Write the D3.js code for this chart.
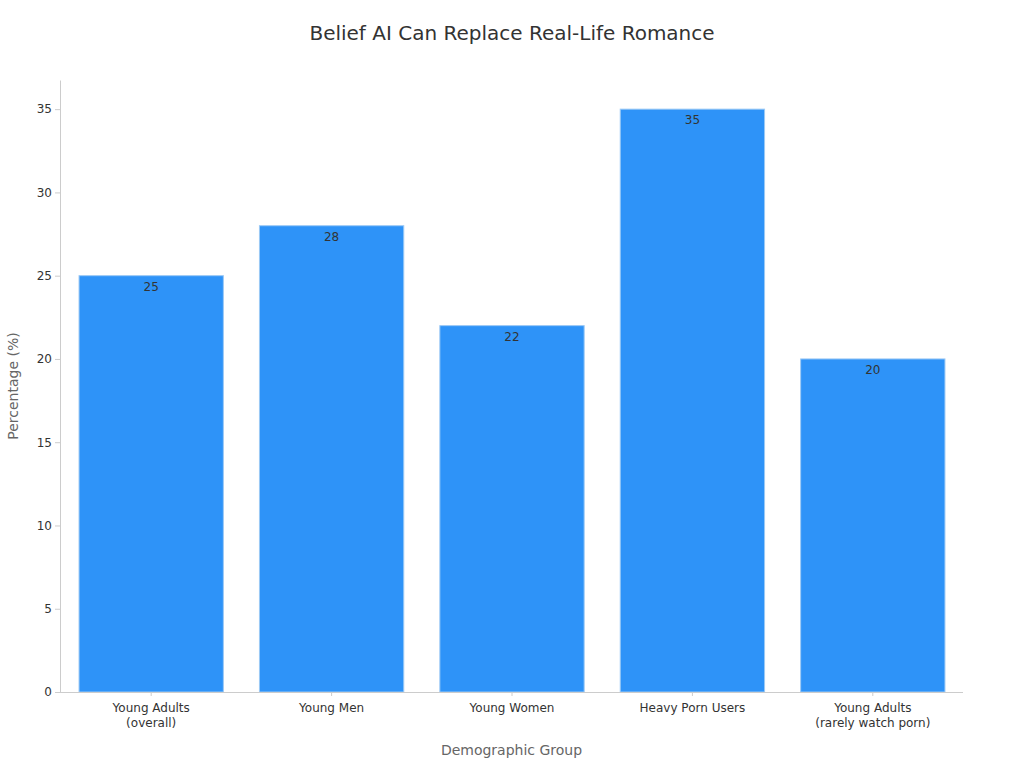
<!DOCTYPE html>
<html>
<head>
<meta charset="utf-8">
<script src="https://cdn.jsdelivr.net/npm/d3@7"></script>
<style>
  body { margin: 0; background: #fff; font-family: "DejaVu Sans", sans-serif; }
  .axis path, .axis line { stroke: #ccc; }
  .axis text { fill: #333; font-size: 12px; font-family: "DejaVu Sans", sans-serif; }
</style>
</head>
<body>
<div id="container"></div>
<script>
  /* DATA */
  const categories = ["Young Adults\n(overall)", "Young Men", "Young Women", "Heavy Porn Users", "Young Adults\n(rarely watch porn)"];
  const values = [25, 28, 22, 35, 20];
  const yTicks = [0, 5, 10, 15, 20, 25, 30, 35];

  const width = 1024, height = 768,
        margin = {top: 80, bottom: 76, left: 60, right: 61};

  const svg = d3.select("#container").append("svg")
      .attr("width", width)
      .attr("height", height);

  const xScale = d3.scaleBand()
      .domain(categories)
      .range([margin.left + 1, width - margin.right])
      .paddingInner(0.2)
      .paddingOuter(0.1);

  const yScale = d3.scaleLinear()
      .domain([0, 36.75])
      .range([height - margin.bottom, margin.top]);

  // title
  svg.append("text")
      .attr("x", width / 2)
      .attr("y", 40)
      .attr("text-anchor", "middle")
      .attr("fill", "#333")
      .attr("font-size", "20px")
      .text("Belief AI Can Replace Real-Life Romance");

  // bars
  svg.selectAll("rect.bar")
      .data(values)
      .join("rect")
      .attr("class", "bar")
      .attr("x", (d, i) => xScale(categories[i]))
      .attr("y", d => yScale(d))
      .attr("width", xScale.bandwidth())
      .attr("height", d => yScale(0) - yScale(d))
      .attr("fill", "#2E93F8")
      .attr("stroke", "#9cc9f5")
      .attr("stroke-width", 1);

  // value labels
  svg.selectAll("text.val")
      .data(values)
      .join("text")
      .attr("class", "val")
      .attr("x", (d, i) => xScale(categories[i]) + xScale.bandwidth() / 2)
      .attr("y", d => yScale(d) + 15)
      .attr("text-anchor", "middle")
      .attr("fill", "#333")
      .attr("font-size", "12px")
      .text(d => d);

  // axes
  const xAxis = svg.append("g")
      .attr("class", "axis")
      .attr("transform", `translate(0,${yScale(0)})`)
      .call(d3.axisBottom(xScale).tickSize(4).tickSizeOuter(0));

  // x axis path spans from the y axis
  xAxis.select(".domain").attr("d", `M${margin.left},0.5H${width - margin.right}`);

  xAxis.selectAll(".tick text").each(function(d) {
    const lines = d.split("\n");
    const t = d3.select(this).text(null).attr("dy", null).attr("y", 0);
    lines.forEach((l, i) => {
      t.append("tspan").attr("x", 0).attr("y", 20 + i * 15).text(l);
    });
  });

  svg.append("g")
      .attr("class", "axis")
      .attr("transform", `translate(${margin.left},0)`)
      .call(d3.axisLeft(yScale).tickValues(yTicks).tickSize(5).tickSizeOuter(0));

  // axis titles
  svg.append("text")
      .attr("x", (margin.left + width - margin.right) / 2)
      .attr("y", 755)
      .attr("text-anchor", "middle")
      .attr("fill", "#666")
      .attr("font-size", "14px")
      .text("Demographic Group");

  svg.append("text")
      .attr("transform", `translate(18,${(margin.top + height - margin.bottom) / 2}) rotate(-90)`)
      .attr("text-anchor", "middle")
      .attr("fill", "#666")
      .attr("font-size", "14px")
      .text("Percentage (%)");
</script>
</body>
</html>
